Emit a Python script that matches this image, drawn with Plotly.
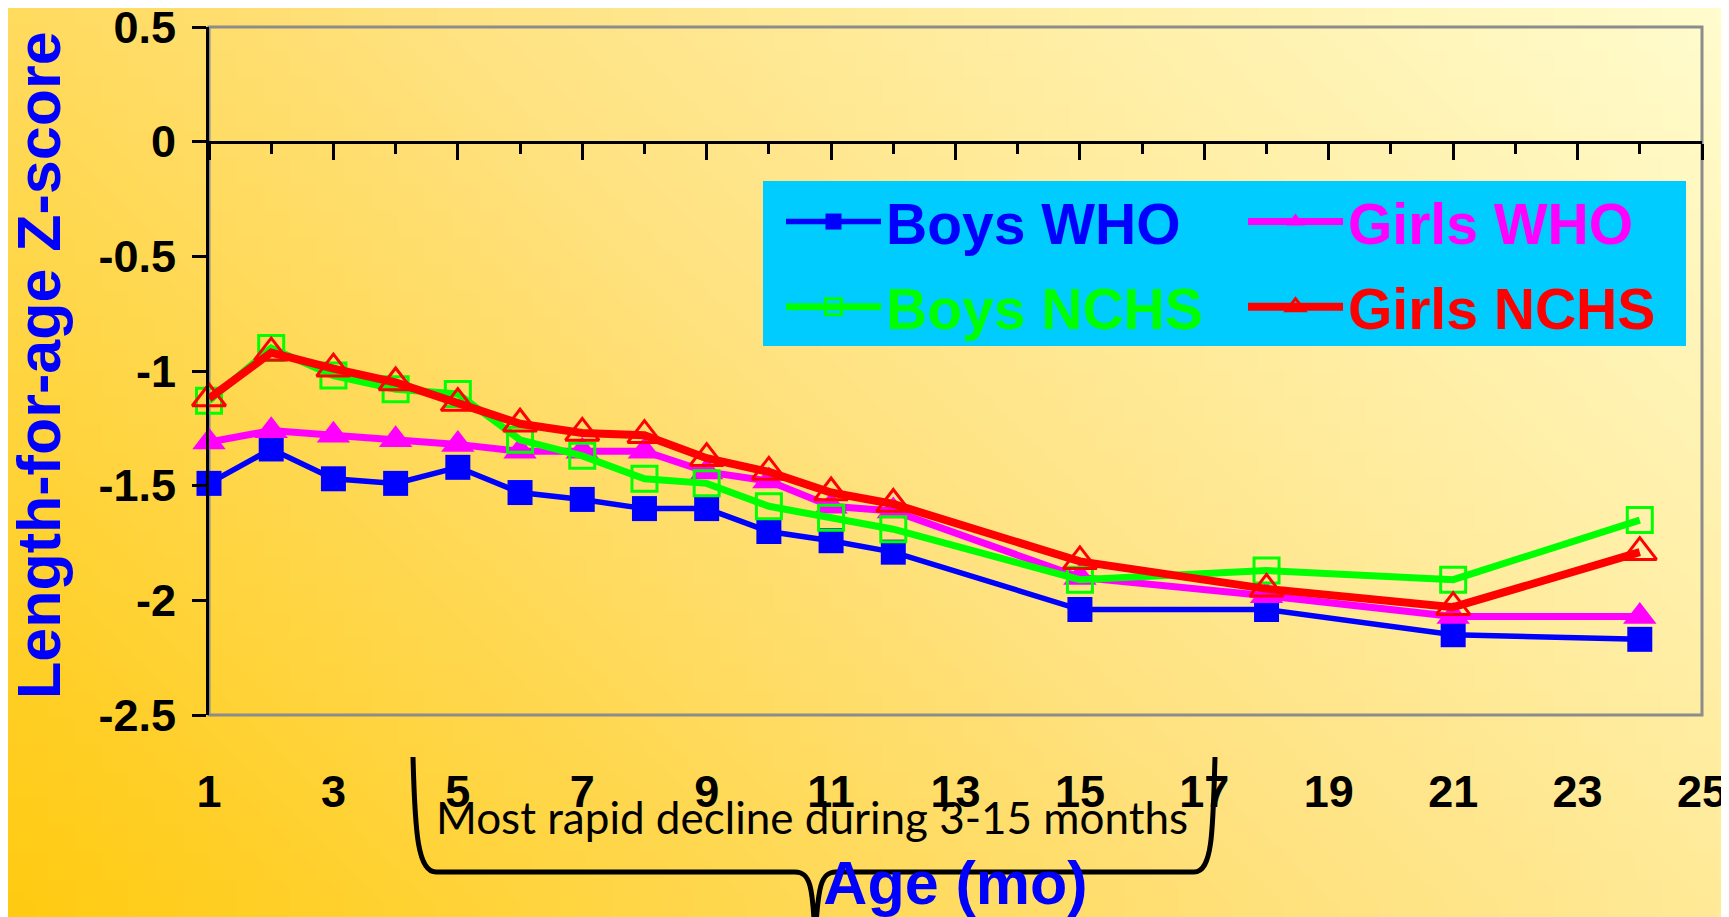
import base64
import struct
import zlib

import plotly.graph_objects as go

# ---------------- data ----------------
months = [1, 2, 3, 4, 5, 6, 7, 8, 9, 10, 11, 12, 15, 18, 21, 24]
boys_who = [-1.49, -1.34, -1.47, -1.49, -1.42, -1.53, -1.56, -1.60, -1.60, -1.70, -1.74, -1.79, -2.04, -2.04, -2.15, -2.17]
girls_who = [-1.31, -1.26, -1.28, -1.30, -1.32, -1.35, -1.35, -1.35, -1.44, -1.48, -1.59, -1.61, -1.90, -1.98, -2.07, -2.07]
boys_nchs = [-1.13, -0.90, -1.02, -1.08, -1.10, -1.30, -1.37, -1.47, -1.49, -1.59, -1.64, -1.69, -1.91, -1.87, -1.91, -1.65]
girls_nchs = [-1.12, -0.92, -0.99, -1.05, -1.14, -1.23, -1.27, -1.28, -1.38, -1.44, -1.53, -1.58, -1.83, -1.95, -2.03, -1.79]

series_names = ["Boys WHO", "Girls WHO", "Boys NCHS", "Girls NCHS"]
series_colors = ["#0000FF", "#FF00FF", "#00FF00", "#FF0000"]

x_tickvals = [1, 3, 5, 7, 9, 11, 13, 15, 17, 19, 21, 23, 25]
x_ticktext = ["1", "3", "5", "7", "9", "11", "13", "15", "17", "19", "21", "23", "25"]
y_tickvals = [0.5, 0, -0.5, -1, -1.5, -2, -2.5]
y_ticktext = ["0.5", "0", "-0.5", "-1", "-1.5", "-2", "-2.5"]

x_title = "Age (mo)"
y_title = "Length-for-age Z-score"
note_text = "Most rapid decline during 3-15 months"

# ---------------- geometry ----------------
BODY = 8                      # default page margin around the plot div
FW, FH = 1729 - BODY, 917 - BODY
ML, MR, MT, MB = 201, 27, 19, 202
PW = FW - ML - MR
PH = FH - MT - MB


def px(xs):
    """screen x (px) -> paper fraction"""
    return (xs - BODY - ML) / PW


def py(ys):
    """screen y (px) -> paper fraction"""
    return (BODY + FH - MB - ys) / PH


# ---------------- gradient background (tiny PNG) ----------------
def lerp(a, b, t):
    return tuple(int(round(a[i] + (b[i] - a[i]) * t)) for i in range(3))


def grad_color(t):
    c0 = (255, 203, 18)
    c1 = (255, 226, 128)
    c2 = (255, 252, 205)
    if t < 0.5:
        return lerp(c0, c1, t / 0.5)
    return lerp(c1, c2, (t - 0.5) / 0.5)


def png_uri(w, h):
    rows = []
    for j in range(h):
        row = bytearray([0])
        for i in range(w):
            xx = i / (w - 1) * FW
            yy = j / (h - 1) * FH
            t = (xx + (FH - yy)) / (FW + FH)
            row.extend(grad_color(t))
        rows.append(bytes(row))
    raw = b"".join(rows)

    def chunk(tag, data):
        c = struct.pack(">I", len(data)) + tag + data
        return c + struct.pack(">I", zlib.crc32(tag + data) & 0xFFFFFFFF)

    png = (b"\x89PNG\r\n\x1a\n"
           + chunk(b"IHDR", struct.pack(">IIBBBBB", w, h, 8, 2, 0, 0, 0))
           + chunk(b"IDAT", zlib.compress(raw, 9))
           + chunk(b"IEND", b""))
    return "data:image/png;base64," + base64.b64encode(png).decode()


BOLD = "Liberation Sans, Arial, sans-serif"

fig = go.Figure()

styles = [
    dict(width=5.5, symbol="square", size=25, mline=0, xaxis="x", legend="legend"),
    dict(width=7, symbol="triangle-up", size=29, mline=0, xaxis="x", legend="legend2"),
    dict(width=7, symbol="square-open", size=25, mline=3, xaxis="x2", legend="legend"),
    dict(width=8, symbol="triangle-up-open", size=29, mline=3, xaxis="x2", legend="legend2"),
]
series = [boys_who, girls_who, boys_nchs, girls_nchs]

for name, color, vals, st in zip(series_names, series_colors, series, styles):
    fig.add_trace(go.Scatter(
        x=months, y=vals, mode="lines+markers",
        name=f"<span style='color:{color}'>{name}</span>",
        legendgroup=name,
        xaxis=st["xaxis"], yaxis="y", legend=st["legend"],
        line=dict(color=color, width=st["width"]),
        marker=dict(symbol=st["symbol"], size=st["size"], color=color,
                    line=dict(color=color, width=st["mline"])),
        cliponaxis=False,
    ))

shapes = [
    # plot-area border (grey)
    dict(type="rect", xref="paper", yref="paper", x0=0, x1=1, y0=0, y1=1,
         line=dict(color="#8C8C8C", width=3), layer="below"),
    # legend box (cyan)
    dict(type="rect", xref="paper", yref="paper",
         x0=px(763), x1=px(1686), y0=py(346), y1=py(181),
         fillcolor="#00CCFF", line=dict(width=0), layer="below"),
]

# curly bracket under the x axis (screen px -> paper)
brace_pts = [
    ("M", [(413, 757)]),
    ("C", [(415, 835), (418, 872), (436, 872)]),
    ("L", [(795, 872)]),
    ("C", [(810, 872), (813, 885), (815, 940)]),
    ("C", [(818, 885), (821, 872), (836, 872)]),
    ("L", [(1194, 872)]),
    ("C", [(1212, 872), (1213, 835), (1215, 757)]),
]
path = " ".join(cmd + " " + " ".join(f"{px(a):.5f},{py(b):.5f}" for a, b in pts)
                for cmd, pts in brace_pts)
shapes.append(dict(type="path", xref="paper", yref="paper", path=path,
                   line=dict(color="black", width=5)))

legend_common = dict(
    orientation="v", xanchor="left", yanchor="top",
    bgcolor="rgba(0,0,0,0)", borderwidth=0,
    font=dict(family=BOLD, size=57, weight="bold", color="black"),
    itemwidth=95, traceorder="grouped", tracegroupgap=8,
    itemclick=False, itemdoubleclick=False,
)

fig.update_layout(
    template="none",
    width=FW, height=FH,
    margin=dict(l=ML, r=MR, t=MT, b=MB, autoexpand=False),
    paper_bgcolor="rgba(0,0,0,0)",
    plot_bgcolor="rgba(0,0,0,0)",
    showlegend=True,
    legend=dict(x=px(781), y=py(178), **legend_common),
    legend2=dict(x=px(1243), y=py(178), **legend_common),
    xaxis=dict(
        range=[1, 25], tickmode="array", tickvals=x_tickvals, ticktext=x_ticktext,
        ticks="", showline=False, showgrid=False, zeroline=False, automargin=False,
        ticklabelstandoff=46, ticklabeloverflow="allow",
        tickfont=dict(family=BOLD, size=45, color="black", weight="bold"),
        title=dict(text=x_title, standoff=57,
                   font=dict(family=BOLD, size=61, color="#0000FF", weight="bold")),
    ),
    xaxis2=dict(
        range=[1, 25], overlaying="x", anchor="free", position=2.5 / 3,
        tickmode="linear", tick0=1, dtick=2,
        ticks="outside", ticklen=16, tickwidth=3, tickcolor="black",
        minor=dict(ticks="outside", ticklen=10, tickwidth=3, tickcolor="black",
                   tick0=0, dtick=1),
        showticklabels=False, showline=True, linecolor="black", linewidth=3,
        showgrid=False, zeroline=False, automargin=False,
    ),
    yaxis=dict(
        range=[-2.5, 0.5], tickmode="array", tickvals=y_tickvals, ticktext=y_ticktext,
        ticks="outside", ticklen=14, tickwidth=3, tickcolor="black",
        showline=True, linecolor="black", linewidth=3,
        showgrid=False, zeroline=False, automargin=False,
        ticklabelstandoff=7, ticklabeloverflow="allow",
        tickfont=dict(family=BOLD, size=45, color="black", weight="bold"),
    ),
    shapes=shapes,
    images=[dict(source=png_uri(64, 34), xref="paper", yref="paper",
                 x=-ML / PW, y=1 + MT / PH, sizex=FW / PW, sizey=FH / PH,
                 xanchor="left", yanchor="top", sizing="stretch", layer="below")],
    annotations=[
        dict(text=note_text, xref="paper", yref="paper",
             x=px(812), y=py(817), xanchor="center", yanchor="middle",
             showarrow=False,
             font=dict(family="Lato, Open Sans, sans-serif", size=44, color="black")),
        # y-axis title (placed as a rotated annotation so it can sit close to the edge)
        dict(text=y_title, xref="paper", yref="paper",
             x=px(39), y=py(365), xanchor="center", yanchor="middle",
             textangle=-90, showarrow=False,
             font=dict(family=BOLD, size=61, color="#0000FF", weight="bold")),
    ],
)

fig.write_html("out.html")
